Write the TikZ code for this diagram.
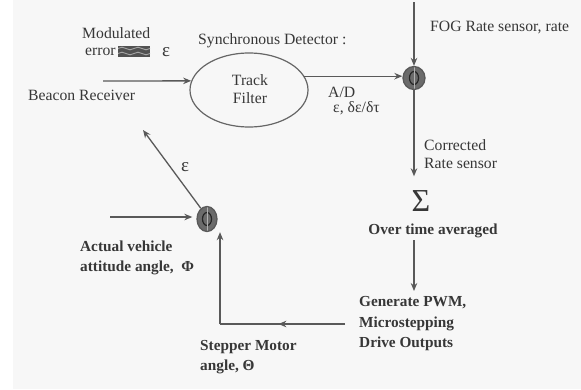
\documentclass[tikz,border=0pt]{standalone}
\usepackage{fontspec}
\setmainfont{Liberation Serif}
\usetikzlibrary{arrows.meta,shapes.geometric,decorations.markings}
\definecolor{bgc}{RGB}{247,247,247}
\definecolor{ink}{RGB}{55,55,55}
\begin{document}
\begin{tikzpicture}[x=1pt,y=-1pt,
  lbl/.style={font=\fontsize{15.7}{18}\selectfont, text=ink, inner sep=0pt, align=left},
  blbl/.style={font=\fontsize{15.3}{20.5}\selectfont\bfseries, text=ink, inner sep=0pt, align=left},
  line/.style={draw=black!65, line width=1.3pt},
  conn/.style={line, -{Stealth[length=8pt,width=6.5pt]}},
  sumj/.style={ellipse, draw=black!65, line width=1.3pt, fill=black!58, inner sep=0pt,
    path picture={
      \draw[black!85, line width=1.2pt] (path picture bounding box.center) ellipse (4.5pt and 6.5pt);
      \draw[black!30, line width=0.8pt] ([yshift=3pt]path picture bounding box.north) -- ([yshift=-3pt]path picture bounding box.south);
    }},
  midarrow/.style={postaction={decorate}, decoration={markings, mark=at position #1 with {\arrow{Stealth[length=8pt,width=6.5pt]}}}}
]
\useasboundingbox (0,0) rectangle (581,389);
\fill[white] (0,0) rectangle (581,389);
\fill[bgc] (13,0) rectangle (581,389);

% top-left labels
\node[lbl, anchor=west] (mod) at (82,33) {Modulated};
\node[lbl, anchor=west] (err) at (85,52) {error};
\node[minimum width=32pt, minimum height=11pt, fill=black!68, inner sep=0pt,
  path picture={
    \foreach \yy in {-2.5,2.5}{
      \draw[black!35, line width=0.9pt] ([xshift=-16pt,yshift=\yy pt]path picture bounding box.center)
        sin ++(4pt,1.3pt) cos ++(4pt,-1.3pt) sin ++(4pt,-1.3pt) cos ++(4pt,1.3pt)
        sin ++(4pt,1.3pt) cos ++(4pt,-1.3pt) sin ++(4pt,-1.3pt) cos ++(4pt,1.3pt);}
  }] (wave) at (134,51) {};
\node[lbl, font=\fontsize{19}{19}\selectfont] (eps1) at (166,52) {ε};

\node[lbl, anchor=west] (sync) at (198,41) {Synchronous Detector :};
\node[ellipse, draw=black!60, line width=1.2pt, minimum width=118pt, minimum height=74pt] (tf) at (249,90) {};
\node[lbl, align=center] (tft) at (250,89) {Track\\Filter};

\node[lbl, anchor=west] (beacon) at (28,95) {Beacon Receiver};
\coordinate (bstart) at (103,81);
\draw[conn] (bstart) -- (tf.171);

% junction 1
\node[sumj, minimum width=22pt, minimum height=23pt] (j1) at (414,78) {};
\coordinate (fogtop) at (414,2);
\draw[conn] (fogtop) -- (j1.north);
\node[lbl, anchor=west] (fog) at (430,28) {FOG Rate sensor, rate};
\draw[conn] (tf.14) -- (tf.14 -| j1.west);
\node[lbl, anchor=west] (ad) at (328,92) {A/D};
\node[lbl, anchor=west] (deriv) at (333,108) {ε, δε/δτ};

\node[lbl, anchor=west] (corr) at (424,154) {Corrected\\Rate sensor};

% sigma
\node[inner sep=0pt, text=ink, font=\fontsize{32}{32}\selectfont, text height=23pt, text depth=0pt] (sig) at (421,200) {Σ};
\draw[conn, shorten >=12pt] (j1.south) -- (j1.south |- sig.north);
\node[blbl] (ota) at (433,231) {Over time averaged};
\draw[conn, shorten <=2pt, shorten >=2pt] (j1 |- ota.south) -- (j1 |- 0,293);

\node[blbl, anchor=west] (gen) at (359,324) {Generate PWM,\\Microstepping\\Drive Outputs};

% feedback
\coordinate (corner) at (220,324);
\node[sumj, minimum width=20pt, minimum height=25pt] (j2) at (207,219) {};
\draw[line, midarrow=0.58, shorten <=14pt] (gen.west) -- (corner);
\draw[conn] (corner) -- (corner |- j2.south);
\node[blbl, anchor=west] (step) at (200,357) {Stepper Motor\\angle, Θ};

\coordinate (ain) at (110,217);
\draw[conn, shorten >=4pt] (ain) -- (ain -| j2.west);
\node[blbl, anchor=west] (act) at (80,258) {Actual vehicle\\attitude angle,\ \ Φ};

\coordinate (eend) at (143,130);
\draw[conn] (j2.120) -- (eend);
\node[lbl, font=\fontsize{19}{19}\selectfont] (eps2) at (185,167) {ε};
\end{tikzpicture}
\end{document}
